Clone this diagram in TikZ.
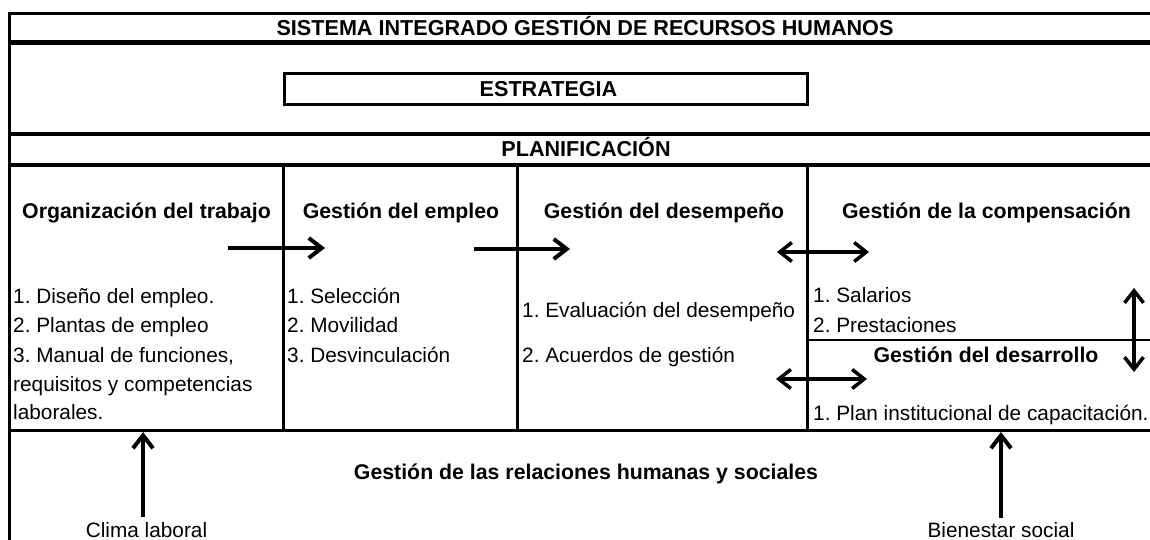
\documentclass[tikz,border=0pt]{standalone}
\usepackage{fontspec}
\setmainfont{Liberation Sans}
\usetikzlibrary{arrows.meta}
\frenchspacing
\begin{document}
\begin{tikzpicture}[x=1pt,y=-1pt,
  rule/.style={line width=3pt},
  thinrule/.style={line width=2pt},
  head/.style={font=\fontsize{21.3}{25}\selectfont\bfseries, inner sep=0pt, anchor=base},
  bighead/.style={head, font=\fontsize{21.6}{25}\selectfont\bfseries},
  txt/.style={font=\fontsize{20.8}{24}\selectfont, inner sep=0pt, anchor=base west},
  lbl/.style={font=\fontsize{20.8}{24}\selectfont, inner sep=0pt, anchor=base},
  arr/.style={line width=4pt, -{Straight Barb[length=13pt,width=20pt]}},
  darr/.style={line width=3.5pt, {Straight Barb[length=12pt,width=19pt]}-{Straight Barb[length=12pt,width=19pt]}},
]
\useasboundingbox (0,0) rectangle (1150,540);
% frame lines
\draw[line width=3pt] (9,540) -- (9,13.5) -- (1150,13.5);
\draw[line width=5pt] (9,42.5) -- (1150,42.5);
\draw[line width=4pt] (9,134.5) -- (1150,134.5);
\draw[line width=3.5pt] (9,165) -- (1150,165);
\draw[rule] (9,430) -- (1150,430);
\draw[rule] (283,165) -- (283,430);
\draw[rule] (517,165) -- (517,430);
\draw[rule] (807,165) -- (807,430);
\draw[thinrule] (807,340) -- (1150,340);
\draw[rule] (284,73.5) rectangle (807.5,104.5);
% titles
\node[bighead] (title) at (585,36) {SISTEMA INTEGRADO GESTIÓN DE RECURSOS HUMANOS};
\node[bighead] (estr) at (548.5,97) {ESTRATEGIA};
\node[bighead] (plan) at (586,157) {PLANIFICACIÓN};
% column headings
\node[head] (horg) at (146.5,218) {Organización del trabajo};
\node[head] (hemp) at (401,218) {Gestión del empleo};
\node[head] (hdes) at (664,218) {Gestión del desempeño};
\node[head] (hcomp) at (986.5,218) {Gestión de la compensación};
\node[head] (hdev) at (986,362) {Gestión del desarrollo};
\node[head] (hrel) at (586,479) {Gestión de las relaciones humanas y sociales};
% lists
\node[txt] (o1) at (13,303) {1. Diseño del empleo.};
\node[txt] (o2) at (13,332) {2. Plantas de empleo};
\node[txt] (o3) at (13,362) {3. Manual de funciones,};
\node[txt] (o4) at (13,391) {requisitos y competencias};
\node[txt] (o5) at (13,419) {laborales.};
\node[txt] (e1) at (287,303) {1. Selección};
\node[txt] (e2) at (287,332) {2. Movilidad};
\node[txt] (e3) at (287,362) {3. Desvinculación};
\node[txt] (d1) at (522,317) {1. Evaluación del desempeño};
\node[txt] (d2) at (522,362) {2. Acuerdos de gestión};
\node[txt] (c1) at (813,302) {1. Salarios};
\node[txt] (c2) at (813,332) {2. Prestaciones};
\node[txt] (v1) at (813,420) {1. Plan institucional de capacitación.};
% bottom labels
\node[lbl] (clima) at (146.5,537) {Clima laboral};
\node[lbl] (bien) at (1001,537) {Bienestar social};
% arrow coordinates
\coordinate (a1s) at (228,248);
\coordinate (a1e) at (325,248);
\coordinate (a2s) at (474,249);
\coordinate (a2e) at (570,249);
\coordinate (a3s) at (777,252);
\coordinate (a3e) at (869,252);
\coordinate (a4s) at (776,379);
\coordinate (a4e) at (867,379);
\coordinate (a5s) at (1134,288);
\coordinate (a5e) at (1134,372);
\coordinate (a6s) at (143,517);
\coordinate (a6e) at (143,432);
\coordinate (a7s) at (1001,518);
\coordinate (a7e) at (1001,432);
\draw[arr] (a1s) -- (a1e);
\draw[arr] (a2s) -- (a2e);
\draw[darr] (a3s) -- (a3e);
\draw[darr] (a4s) -- (a4e);
\draw[darr] (a5s) -- (a5e);
\draw[arr] (a6s) -- (a6e);
\draw[arr] (a7s) -- (a7e);
\end{tikzpicture}
\end{document}
